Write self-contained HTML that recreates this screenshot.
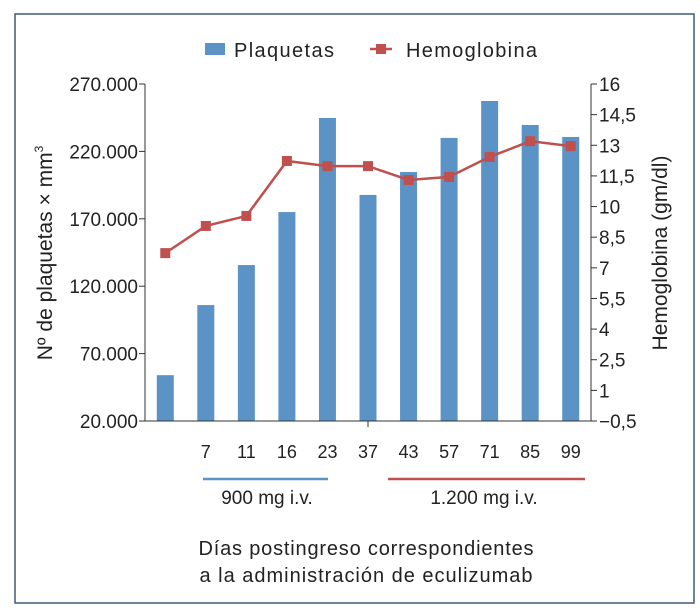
<!DOCTYPE html>
<html><head><meta charset="utf-8"><style>
html,body{margin:0;padding:0;background:#fff}
svg{display:block;font-family:"Liberation Sans Narrow","Liberation Sans",sans-serif}
</style></head><body>
<svg id="c" width="700" height="615" viewBox="0 0 700 615">
<rect x="15" y="14" width="679" height="589" fill="#fff" stroke="#3d5a78" stroke-width="1.5"/>
<g>
<rect x="205" y="43" width="20" height="12" fill="#5b93c7"/>
<text x="234" y="57" font-size="20" textLength="100" fill="#222">Plaquetas</text>
<line x1="370" y1="49" x2="392" y2="49" stroke="#c0504d" stroke-width="2.5"/>
<rect x="376" y="44" width="10" height="10" fill="#c0504d"/>
<text x="406" y="57" font-size="20" textLength="131" fill="#222">Hemoglobina</text>
</g>
<g id="plot"></g>
<text transform="translate(52,253) rotate(-90)" text-anchor="middle" font-size="21" fill="#222">Nº de plaquetas × mm<tspan font-size="12" dy="-9">3</tspan></text>
<text transform="translate(667,253) rotate(-90)" text-anchor="middle" font-size="21" fill="#222">Hemoglobina (gm/dl)</text>
<line x1="203" y1="479" x2="328" y2="479" stroke="#5b93c7" stroke-width="2.5"/>
<line x1="388" y1="479" x2="585" y2="479" stroke="#c0504d" stroke-width="2.5"/>
<text x="267" y="504" text-anchor="middle" font-size="19" fill="#222">900 mg i.v.</text>
<text x="484" y="504" text-anchor="middle" font-size="19" fill="#222">1.200 mg i.v.</text>
<text x="366" y="555" text-anchor="middle" font-size="20" textLength="335" fill="#222">Días postingreso correspondientes</text>
<text x="366" y="582" text-anchor="middle" font-size="20" textLength="333" fill="#222">a la administración de eculizumab</text>
</svg>
<script>
const categories = ["", "7", "11", "16", "23", "37", "43", "57", "71", "85", "99"];
const plaquetas = [54000, 106000, 135700, 175000, 244800, 187700, 204700, 230000, 257400, 239600, 230700];
const hemoglobina = [7.72, 9.05, 9.54, 12.23, 11.98, 11.98, 11.3, 11.45, 12.43, 13.2, 12.96];
const leftTicks = [20000, 70000, 120000, 170000, 220000, 270000];
const leftTickLabels = ["20.000", "70.000", "120.000", "170.000", "220.000", "270.000"];
const rightTicks = [-0.5, 1, 2.5, 4, 5.5, 7, 8.5, 10, 11.5, 13, 14.5, 16];
const rightTickLabels = ["−0,5", "1", "2,5", "4", "5,5", "7", "8,5", "10", "11,5", "13", "14,5", "16"];

const NS = "http://www.w3.org/2000/svg";
const X0 = 145, X1 = 591, YT = 84, YB = 421;
const yL = v => YB - (v - 20000) / 250000 * (YB - YT);
const yR = v => YB - (v + 0.5) / 16.5 * (YB - YT);
const band = (X1 - X0) / categories.length;
const xC = i => X0 + band * (i + 0.5);
const g = document.getElementById("plot");
function mk(tag, attrs, parent) {
  const e = document.createElementNS(NS, tag);
  for (const k in attrs) e.setAttribute(k, attrs[k]);
  (parent || g).appendChild(e);
  return e;
}
plaquetas.forEach((v, i) => {
  const r = mk("rect", {x: xC(i) - 8.5, y: yL(v), width: 17, height: YB - yL(v), fill: "#5b93c7"});
  
  
});
const pl = mk("polyline", {points: hemoglobina.map((v, i) => xC(i) + "," + yR(v)).join(" "), fill: "none", stroke: "#c0504d", "stroke-width": 2.5});


hemoglobina.forEach((v, i) => {
  const m = mk("rect", {x: xC(i) - 5, y: yR(v) - 5, width: 10, height: 10, fill: "#c0504d"});
  
  
});
const axL = mk("line", {x1: X0, y1: YT, x2: X0, y2: YB, stroke: "#333", "stroke-width": 1});


const axR = mk("line", {x1: X1, y1: YT, x2: X1, y2: YB, stroke: "#333", "stroke-width": 1});


const axX = mk("line", {x1: X0 - 6, y1: YB, x2: X1 + 6, y2: YB, stroke: "#333", "stroke-width": 1});


const mt = mk("line", {x1: xC(5), y1: YB, x2: xC(5), y2: YB + 6, stroke: "#333", "stroke-width": 1});


leftTicks.forEach((v, i) => {
  mk("line", {x1: X0 - 6, y1: yL(v), x2: X0, y2: yL(v), stroke: "#333"});
  const t = mk("text", {x: X0 - 7, y: yL(v) + 7, "text-anchor": "end", "font-size": 19, fill: "#222"});
  t.textContent = leftTickLabels[i];
  
  
});
rightTicks.forEach((v, i) => {
  mk("line", {x1: X1, y1: yR(v), x2: X1 + 6, y2: yR(v), stroke: "#333"});
  const t = mk("text", {x: X1 + 8, y: yR(v) + 7, "font-size": 19, fill: "#222"});
  t.textContent = rightTickLabels[i];
  
  
});
categories.forEach((c, i) => {
  const t = mk("text", {x: xC(i), y: 458, "text-anchor": "middle", "font-size": 18, fill: "#222"});
  t.textContent = c;
  
  
});
</script>
</body></html>
